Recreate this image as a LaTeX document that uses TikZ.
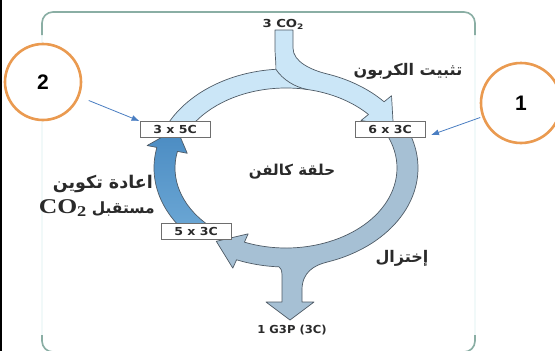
\documentclass[tikz,border=0pt]{standalone}
\usepackage{fontspec}
\usepackage{graphicx}
\setmainfont{DejaVu Sans}
\newfontfamily\arabicfont[Script=Arabic]{DejaVu Sans}
\newfontfamily\lsans{Liberation Sans}
\newfontfamily\lserif{Liberation Serif}
\newfontfamily\dvs{DejaVu Sans}
\TeXXeTstate=1
\usetikzlibrary{arrows.meta}
\definecolor{topband}{HTML}{CBE6F7}
\definecolor{rightband}{HTML}{A6C0D4}
\definecolor{leftdark}{HTML}{4A8BC2}
\definecolor{leftlight}{HTML}{6EA9D6}
\definecolor{bandline}{HTML}{4F5B66}
\definecolor{frameline}{HTML}{8AAEA4}
\definecolor{framefaint}{HTML}{EAF6F6}
\definecolor{ringorange}{HTML}{EA9A50}
\definecolor{ptrblue}{HTML}{4A7EC2}
\definecolor{boxline}{HTML}{6E6E6E}
\definecolor{labeltext}{HTML}{2A2A2A}
\begin{document}
\begin{tikzpicture}[x=1pt,y=-1pt,
  band/.style={draw=bandline,line width=0.7pt,line join=round},
  cbox/.style={draw=boxline,fill=white,line width=0.9pt,minimum width=70pt,minimum height=16pt,inner sep=0pt,font=\dvs\bfseries\fontsize{11}{11}\selectfont,text=labeltext},
  numcirc/.style={circle,draw=ringorange,line width=2.6pt,fill=white,inner sep=0pt,font=\lsans\bfseries\fontsize{21}{21}\selectfont},
  ptrarrow/.style={draw=ptrblue,line width=0.8pt,-{Latex[length=8pt,width=6pt]}},
  artext/.style={font=\arabicfont\bfseries\fontsize{16}{16}\selectfont,text=labeltext,inner sep=0pt},
  smalltext/.style={font=\dvs\bfseries\fontsize{11}{11}\selectfont,text=labeltext,inner sep=0pt}
]
\useasboundingbox (0,0) rectangle (555,351);
\fill[white] (0,0) rectangle (555,351);
\fill[black] (0,0) rectangle (1.5,351);
% frame
\draw[framefaint,line width=1.2pt,rounded corners=11pt] (42,12) rectangle (475,352);
\draw[frameline,line width=1.6pt,rounded corners=11pt] (42,35) -- (42,12) -- (475,12) -- (475,35);
\draw[frameline,line width=1.6pt,rounded corners=11pt] (42,335) -- (42,352) -- (70,352);
\draw[frameline,line width=1.6pt,rounded corners=11pt] (475,335) -- (475,352) -- (445,352);
% right band with output branch
\path[band,fill=rightband]
 ([shift={(286,168)}]-28:132 and 99) arc[start angle=-28,end angle=72,x radius=132,y radius=99]
 .. controls (314.3,265.3) and (302,272) .. (302,290) -- (302,302) -- (314,302) -- (290,320) -- (266,302) -- (282,302) -- (282,275)
 .. controls (282,270) and (280.5,268) .. ([shift={(286,168)}]93:132 and 99)
 arc[start angle=93,end angle=112,x radius=132,y radius=99]
 -- ([shift={(286,168)}]112:142 and 108)
 -- ([shift={(286,168)}]125:121.5 and 89.5)
 -- ([shift={(286,168)}]112:101 and 71)
 -- ([shift={(286,168)}]112:111 and 80)
 arc[start angle=112,end angle=-28,x radius=111,y radius=80]
 -- cycle;
% top band with CO2 input
\path[band,fill=topband]
 ([shift={(286,168)}]205:132 and 99) arc[start angle=205,end angle=265.6,x radius=132,y radius=99]
 .. controls (276,60) and (275,56) .. (275,48) -- (275,30) -- (293,30) -- (293,48)
 .. controls (293,62) and (311.7,70.1) .. ([shift={(286,168)}]288:132 and 99)
 arc[start angle=288,end angle=318,x radius=132,y radius=99]
 -- ([shift={(286,168)}]318:142 and 108)
 -- ([shift={(286,168)}]332:121.5 and 89.5)
 -- ([shift={(286,168)}]318:101 and 71)
 -- ([shift={(286,168)}]318:111 and 80)
 arc[start angle=318,end angle=205,x radius=111,y radius=80]
 -- cycle;
\draw[band] ([shift={(286,168)}]265.6:132 and 99) .. controls (283,80) and (295,87) .. ([shift={(286,168)}]280.9:111 and 80);
% left band
\path[band,top color=leftdark,bottom color=leftlight]
 ([shift={(286,168)}]135:132 and 99) arc[start angle=135,end angle=192,x radius=132,y radius=99]
 -- ([shift={(286,168)}]192:142 and 108)
 -- ([shift={(286,168)}]206:121.5 and 89.5)
 -- ([shift={(286,168)}]192:101 and 71)
 -- ([shift={(286,168)}]192:111 and 80)
 arc[start angle=192,end angle=135,x radius=111,y radius=80]
 -- cycle;
% boxes
\node[cbox] (b35) at (175,129.5) {\scalebox{1.14}[1]{3 x 5C}};
\node[cbox] (b63) at (390,129) {\scalebox{1.14}[1]{6 x 3C}};
\node[cbox] (b53) at (196,231) {\scalebox{1.14}[1]{5 x 3C}};
% texts
\node[smalltext] (co2in) at (283,24) {\scalebox{1.2}[1]{3 CO\raisebox{-2pt}{\fontsize{7.5}{7.5}\selectfont 2}}};
\node[smalltext] (g3p) at (292,330) {\scalebox{1.05}[1]{1 G3P (3C)}};
\node[artext] (fix) at (408,71) {\beginR تثبيت الكربون\endR};
\node[artext,font=\arabicfont\bfseries\fontsize{15}{15}\selectfont] (calvin) at (292,172) {\beginR حلقة كالفن\endR};
\node[artext,anchor=east,font=\arabicfont\bfseries\fontsize{17.5}{17.5}\selectfont] (regen1) at (153,184) {\beginR اعادة تكوين\endR};
\node[artext,anchor=east,font=\arabicfont\bfseries\fontsize{15.5}{15.5}\selectfont] (regen2) at (155,208) {\beginR مستقبل \beginL{\lserif\bfseries\scalebox{1.22}[1]{\fontsize{21}{21}\selectfont CO\raisebox{-3pt}{\fontsize{15}{15}\selectfont 2}}}\endL\endR};
\node[artext] (reduc) at (402,258) {\beginR إختزال\endR};
% numbered circles
\node[numcirc,minimum size=76pt] (c2) at (43,82) {2};
\node[numcirc,minimum size=80pt] (c1) at (521,103) {1};
\coordinate (t1) at (431,135);
\draw[ptrarrow,shorten <=10pt] (c2) -- (b35.north west);
\draw[ptrarrow,shorten <=2pt] (c1) -- (t1);
\end{tikzpicture}
\end{document}
